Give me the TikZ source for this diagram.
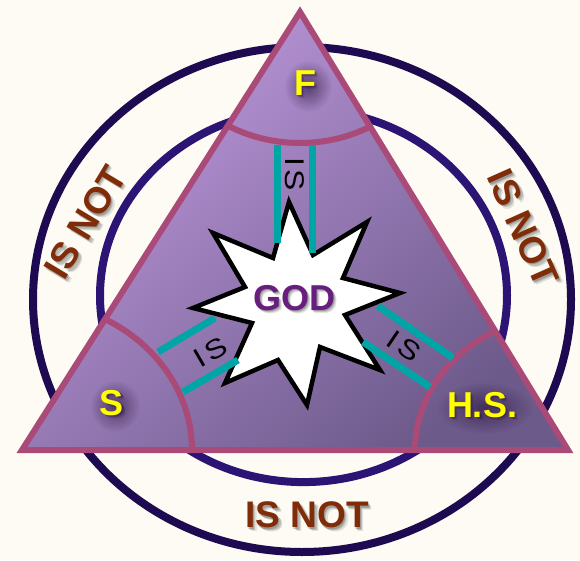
\documentclass[tikz,border=0pt]{standalone}
\usepackage{fontspec}
\setmainfont{Liberation Sans}
\newfontfamily\isfont[FakeStretch=1.18, LetterSpace=14]{Liberation Sans}
\usetikzlibrary{calc,fadings}
\definecolor{bg}{RGB}{253,251,243}
\definecolor{ringout}{RGB}{30,10,80}
\definecolor{ringin}{RGB}{44,20,116}
\definecolor{triedge}{RGB}{170,74,120}
\definecolor{trilight}{RGB}{190,152,220}
\definecolor{tridark}{RGB}{108,90,138}
\definecolor{tealbar}{RGB}{0,166,166}
\definecolor{notbrown}{RGB}{128,44,8}
\definecolor{godpurple}{RGB}{104,30,126}
\definecolor{labyellow}{RGB}{255,255,0}
\definecolor{glow}{RGB}{45,22,65}
\definecolor{shadowgray}{RGB}{70,70,70}
\tikzfading[name=softglow, inner color=transparent!35, outer color=transparent!100]
\newcommand{\shlab}[7]{% name, position, rotation, style, shadow colour, shadow step, text
  \foreach \d/\o in {1/0.30, 2/0.22, 3/0.15} {
    \node[#4, text=#5, text opacity=\o, rotate=#3] at ($(#2)+(#6*\d,-#6*\d)$) {#7};}
  \node[#4, rotate=#3] (#1) at (#2) {#7};
}
\tikzset{
  ringline/.style={line width=8pt},
  edgeline/.style={draw=triedge, line width=6pt, line join=miter},
  arcline/.style={draw=triedge, line width=6pt},
  tealline/.style={draw=tealbar, line width=7pt},
  notlabel/.style={font=\bfseries\fontsize{37}{37}\selectfont, text=notbrown, inner sep=0pt},
  personlabel/.style={font=\bfseries\fontsize{36}{36}\selectfont, text=labyellow, inner sep=0pt},
  godlabel/.style={font=\bfseries\fontsize{36}{36}\selectfont, text=godpurple, inner sep=0pt},
  islabel/.style={font=\isfont\fontsize{27}{27}\selectfont, text=black, inner sep=0pt},
  starshape/.style={fill=white, draw=black, line width=4.5pt, line join=miter},
  glowblob/.style={fill=glow, path fading=softglow}
}
\begin{document}
\begin{tikzpicture}[x=1pt,y=1pt]
\useasboundingbox (0,0) rectangle (580,560);
\fill[bg] (0,0) rectangle (580,560);
% rings
\draw[ringline, draw=ringout] (302,260.5) ellipse [x radius=269, y radius=252.5];
\draw[ringline, draw=ringin] (303.5,264.3) ellipse [x radius=203.5, y radius=186.4];
% triangle
\coordinate (A) at (300,548);
\coordinate (B) at (22,110);
\coordinate (C) at (568,110);
\shade[shading=axis, top color=trilight, bottom color=tridark, shading angle=40] (A)--(B)--(C)--cycle;
\begin{scope}
  \clip (A)--(B)--(C)--cycle;
  \draw[arcline, shift={(A)}] (230:145 and 131) arc[start angle=230, end angle=310, x radius=145, y radius=131];
  \draw[arcline, shift={(B)}] (-5:170 and 150) arc[start angle=-5, end angle=70, x radius=170, y radius=150];
  \draw[arcline, shift={(C)}] (110:153 and 135) arc[start angle=110, end angle=185, x radius=153, y radius=135];
\end{scope}
\draw[edgeline] (A)--(B)--(C)--cycle;
% star
\draw[starshape] (289,358) -- (313,305) -- (367,338) -- (343,282) -- (400,267) -- (345,245)
  -- (380,190) -- (320,213) -- (307,155) -- (278,200) -- (225,177) -- (252,237)
  -- (193,252) -- (245,273) -- (213,327) -- (273,302) -- cycle;
% teal bars
\coordinate (t1a) at (277,415); \coordinate (t1b) at (277,317);
\coordinate (t2a) at (312,415); \coordinate (t2b) at (312,307);
\coordinate (l1a) at (158,208); \coordinate (l1b) at (215,242);
\coordinate (l2a) at (183,168); \coordinate (l2b) at (238,200);
\coordinate (r1a) at (378,254); \coordinate (r1b) at (453,202);
\coordinate (r2a) at (363,218); \coordinate (r2b) at (430,173);
\draw[tealline] (t1a) -- (t1b);
\draw[tealline] (t2a) -- (t2b);
\draw[tealline] (l1a) -- (l1b);
\draw[tealline] (l2a) -- (l2b);
\draw[tealline] (r1a) -- (r1b);
\draw[tealline] (r2a) -- (r2b);
% IS labels
\node[islabel, rotate=-90] (isTop) at (295,386) {IS};
\node[islabel, rotate=30] (isLeft) at (211,208) {IS};
\node[islabel, rotate=-34] (isRight) at (404,214) {IS};
% GOD
\coordinate (godpos) at (294,262);
\shlab{god}{godpos}{0}{godlabel}{shadowgray}{1.2}{GOD}
% persons with soft dark glow
\coordinate (fpos) at (305,477);
\coordinate (spos) at (112,157);
\coordinate (hspos) at (482,155);
\fill[glowblob] ($(fpos)+(3,-3)$) ellipse [x radius=24, y radius=26];
\fill[glowblob] ($(spos)+(3,-3)$) ellipse [x radius=25, y radius=26];
\fill[glowblob] ($(hspos)+(3,-3)$) ellipse [x radius=48, y radius=26];
\shlab{F}{fpos}{0}{personlabel}{glow}{1.2}{F}
\shlab{S}{spos}{0}{personlabel}{glow}{1.2}{S}
\shlab{HS}{hspos}{0}{personlabel}{glow}{1.2}{H.S.}
% IS NOT
\coordinate (nb) at (307,45);
\coordinate (nl) at (85,338);
\coordinate (nr) at (523,332);
\shlab{notB}{nb}{0}{notlabel}{shadowgray}{1.3}{IS NOT}
\shlab{notL}{nl}{59}{notlabel}{shadowgray}{1.3}{IS NOT}
\shlab{notR}{nr}{-66}{notlabel}{shadowgray}{1.3}{IS NOT}
\end{tikzpicture}
\end{document}
